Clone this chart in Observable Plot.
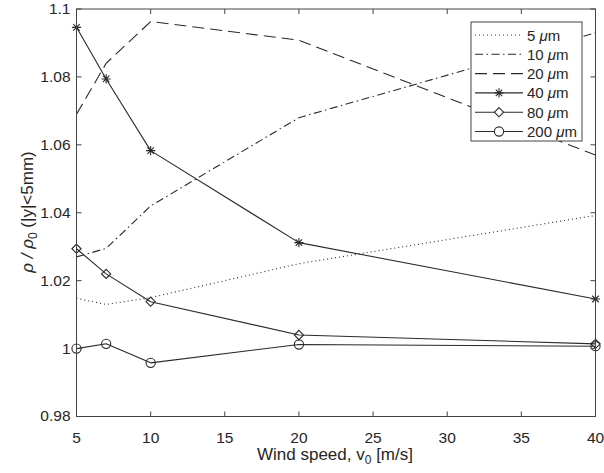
<!DOCTYPE html>
<html><head><meta charset="utf-8">
<script src="https://cdn.jsdelivr.net/npm/d3@7"></script>
<script src="https://cdn.jsdelivr.net/npm/@observablehq/plot@0.6"></script>
<style>
body{margin:0;background:#fff;}
#chart{position:relative;width:604px;height:473px;}
</style></head><body><div id="chart"></div>
<script>
// ---- data ----
const windSpeed = [5, 7, 10, 20, 40];
const s5   = [1.0148, 1.0130, 1.0150, 1.0250, 1.0392];
const s10  = [1.0270, 1.0295, 1.0420, 1.0680, 1.0930];
const s20  = [1.0690, 1.0840, 1.0963, 1.0908, 1.0570];
const s40  = [1.0946, 1.0794, 1.0583, 1.0312, 1.0146];
const s80  = [1.0294, 1.0220, 1.0138, 1.0040, 1.0014];
const s200 = [1.0000, 1.0014, 0.9958, 1.0012, 1.0007];
const sizeLabels = ["5", "10", "20", "40", "80", "200"];
const xTicks = [5, 10, 15, 20, 25, 30, 35, 40];
const yTicks = [0.98, 1.0, 1.02, 1.04, 1.06, 1.08, 1.1];
const yTickLabels = ["0.98", "1", "1.02", "1.04", "1.06", "1.08", "1.1"];

// ---- layout / styles ----
const W = 604, H = 473, mL = 76, mR = 9, mT = 8.5, mB = 57;
const xDom = [5, 40], yDom = [0.98, 1.1];
const FONT = "'Liberation Sans', Arial, Helvetica, sans-serif";
const lineColor = "#2a2a2a";
const axisColor = "#444";
const tickPx = 5;
const tx = tickPx * (xDom[1] - xDom[0]) / (W - mL - mR);
const ty = tickPx * (yDom[1] - yDom[0]) / (H - mT - mB);

const rad = size => Math.sqrt(size / Math.PI);
const symAsterisk = {draw(ctx, size){ const r = rad(size), d = r * 0.7071;
  ctx.moveTo(-r,0); ctx.lineTo(r,0); ctx.moveTo(0,-r); ctx.lineTo(0,r);
  ctx.moveTo(-d,-d); ctx.lineTo(d,d); ctx.moveTo(-d,d); ctx.lineTo(d,-d);}};
const symDiamond = {draw(ctx, size){ const r = rad(size);
  ctx.moveTo(0,-r); ctx.lineTo(r,0); ctx.lineTo(0,r); ctx.lineTo(-r,0); ctx.closePath();}};
const symCircle = {draw(ctx, size){ const r = rad(size);
  ctx.moveTo(r,0); ctx.arc(0,0,r,0,2*Math.PI);}};

const series = [
  {label: sizeLabels[0], values: s5,   dash: "1,3",           symbol: null},
  {label: sizeLabels[1], values: s10,  dash: "8,3.5,1.5,3.5", symbol: null},
  {label: sizeLabels[2], values: s20,  dash: "12,6",          symbol: null},
  {label: sizeLabels[3], values: s40,  dash: null,            symbol: symAsterisk, r: 4.6},
  {label: sizeLabels[4], values: s80,  dash: null,            symbol: symDiamond,  r: 4.6},
  {label: sizeLabels[5], values: s200, dash: null,            symbol: symCircle,   r: 4.6}
];
const rows = s => windSpeed.map((x, i) => ({x, y: s.values[i]}));

const marks = [];
for (const s of series) {
  marks.push(Plot.line(rows(s), {x: "x", y: "y", stroke: lineColor, strokeWidth: 1.1,
    strokeDasharray: s.dash, strokeLinecap: "butt"}));
  if (s.symbol) marks.push(Plot.dot(rows(s), {x: "x", y: "y", symbol: s.symbol, r: s.r,
    stroke: lineColor, fill: "none", strokeWidth: 1.1}));
}
marks.push(
  // inward tick marks on all four sides
  Plot.link(xTicks, {x1: d => d, x2: d => d, y1: d => yDom[0], y2: d => yDom[0] + ty, stroke: axisColor, strokeWidth: 1}),
  Plot.link(xTicks, {x1: d => d, x2: d => d, y1: d => yDom[1], y2: d => yDom[1] - ty, stroke: axisColor, strokeWidth: 1}),
  Plot.link(yTicks, {y1: d => d, y2: d => d, x1: d => xDom[0], x2: d => xDom[0] + tx, stroke: axisColor, strokeWidth: 1}),
  Plot.link(yTicks, {y1: d => d, y2: d => d, x1: d => xDom[1], x2: d => xDom[1] - tx, stroke: axisColor, strokeWidth: 1}),
  Plot.frame({stroke: "#444"}),
  Plot.axisX({ticks: xTicks, tickSize: 0, tickPadding: 15, label: null}),
  Plot.axisY({ticks: yTicks, tickSize: 0, tickPadding: 6, tickFormat: (d, i) => yTickLabels[i], label: null})
);

const chart = Plot.plot({
  width: W, height: H,
  marginLeft: mL, marginRight: mR, marginTop: mT, marginBottom: mB,
  x: {domain: xDom},
  y: {domain: yDom},
  style: {fontFamily: FONT, fontSize: "15.5px", color: "#262626", background: "#fff", overflow: "visible"},
  marks
});
document.getElementById("chart").appendChild(chart);

// ---- axis titles with subscripts ----
const svg = d3.select(chart);
const xt = svg.append("text").attr("x", 335).attr("y", 460).attr("text-anchor", "middle")
  .attr("font-size", 17).attr("fill", "#262626").attr("font-family", FONT);
xt.append("tspan").text("Wind speed, v");
xt.append("tspan").attr("font-size", 12).attr("dy", 4).text("0");
xt.append("tspan").attr("dy", -4).text(" [m/s]");

const yt = svg.append("text").attr("transform", "translate(33,212) rotate(-90)")
  .attr("text-anchor", "middle").attr("font-size", 17).attr("fill", "#262626").attr("font-family", FONT);
yt.append("tspan").attr("font-style", "italic").text("ρ / ρ");
yt.append("tspan").attr("font-size", 12).attr("dy", 4).text("0");
yt.append("tspan").attr("dy", -4).text(" (|y|<5mm)");

// ---- legend ----
const lg = svg.append("g").attr("transform", "translate(471,22)");
lg.append("rect").attr("width", 111).attr("height", 119).attr("fill", "#fff").attr("stroke", "#444").attr("stroke-width", 1);
series.forEach((s, i) => {
  const cy = 13 + i * 19.3;
  lg.append("line").attr("x1", 4).attr("x2", 52).attr("y1", cy).attr("y2", cy)
    .attr("stroke", lineColor).attr("stroke-width", 1.1).attr("stroke-dasharray", s.dash);
  if (s.symbol) lg.append("path").attr("transform", `translate(28,${cy})`)
    .attr("d", d3.symbol(s.symbol, Math.PI * s.r * s.r)()).attr("fill", "#fff").attr("stroke", lineColor).attr("stroke-width", 1.1);
  const t = lg.append("text").attr("x", 56).attr("y", cy + 5.5).attr("text-anchor", "start")
    .attr("font-size", 15).attr("fill", "#262626").attr("font-family", FONT);
  t.append("tspan").text(s.label + " ");
  t.append("tspan").attr("font-style", "italic").text("μ");
  t.append("tspan").text("m");
});
</script></body></html>
